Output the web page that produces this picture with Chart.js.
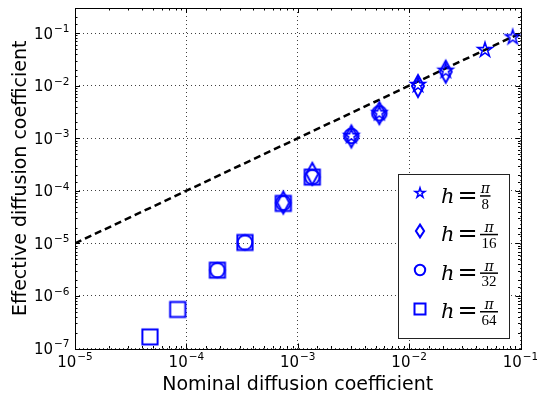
<!DOCTYPE html>
<html>
<head>
<meta charset="utf-8">
<script src="https://cdn.jsdelivr.net/npm/chart.js@4.4.1/dist/chart.umd.min.js"></script>
<style>
  html, body { margin: 0; padding: 0; background: #fff; }
  #wrap { position: relative; width: 537px; height: 394px; }
</style>
</head>
<body>
<div id="wrap"><canvas id="chart"></canvas></div>
<script>
// ---- data ----
// h = pi/8  (stars)
const xPi8  = [3.03e-3, 5.40e-3, 1.20e-2, 2.13e-2, 4.80e-2, 8.51e-2];
const yPi8  = [1.10e-3, 3.00e-3, 1.03e-2, 1.92e-2, 4.77e-2, 8.32e-2];
// h = pi/16 (thin diamonds)
const xPi16 = [7.41e-4, 1.35e-3, 3.03e-3, 5.40e-3, 1.20e-2, 2.13e-2];
const yPi16 = [5.96e-5, 2.10e-4, 1.08e-3, 3.00e-3, 9.84e-3, 1.84e-2];
// h = pi/32 (circles)
const xPi32 = [1.90e-4, 3.36e-4, 7.41e-4, 1.35e-3, 3.03e-3, 5.40e-3];
const yPi32 = [3.09e-6, 1.04e-5, 5.90e-5, 1.82e-4, 1.10e-3, 2.97e-3];
// h = pi/64 (squares)
const xPi64 = [4.71e-5, 8.36e-5, 1.90e-4, 3.36e-4, 7.41e-4, 1.35e-3];
const yPi64 = [1.66e-7, 5.52e-7, 3.09e-6, 1.04e-5, 5.76e-5, 1.82e-4];
// dashed reference line (effective = nominal)
const refX = [1e-5, 1e-1];
const refY = [1e-5, 1e-1];

const legendDenoms = ['8', '16', '32', '64'];
const xTitle = 'Nominal diffusion coefficient';
const yTitle = 'Effective diffusion coefficient';

// ---- helpers ----
const BLUE = '#0000ff';

function isDecade(v) {
  const l = Math.log10(v);
  return Math.abs(l - Math.round(l)) < 1e-6;
}
// exponent text for 10^n, with a real minus sign
function decadeExp(v) {
  return String(Math.round(Math.log10(v))).replace('-', '\u2212');
}
const toPoints = (xs, ys) => xs.map((x, i) => ({ x: x, y: ys[i] }));

// open marker drawn once into a small canvas, used as pointStyle
function makeMarker(shape, h, w, lw) {
  const pad = lw * 3 + 2;
  const c = document.createElement('canvas');
  c.width = Math.ceil(w + pad) * 2;
  c.height = Math.ceil(h + pad) * 2;
  const g = c.getContext('2d');
  g.translate(c.width / 2, c.height / 2);
  g.strokeStyle = BLUE;
  g.lineWidth = lw;
  g.lineJoin = 'miter';
  g.beginPath();
  if (shape === 'star') {
    for (let i = 0; i < 10; i++) {
      const a = -Math.PI / 2 + i * Math.PI / 5;
      const r = i % 2 ? h * 0.382 : h;
      g.lineTo(r * Math.cos(a), r * Math.sin(a));
    }
    g.closePath();
  } else if (shape === 'diamond') {
    g.moveTo(0, -h); g.lineTo(w, 0); g.lineTo(0, h); g.lineTo(-w, 0);
    g.closePath();
  } else if (shape === 'circle') {
    g.arc(0, 0, h, 0, Math.PI * 2);
  } else {
    g.rect(-w, -h, 2 * w, 2 * h);
  }
  g.stroke();
  return c;
}

const plotMarkers = [
  makeMarker('star', 7.6, 7.6, 1.6),
  makeMarker('diamond', 11, 6, 2),
  makeMarker('circle', 7.3, 7.3, 2),
  makeMarker('square', 7.6, 7.6, 2)
];
const legendMarkers = [
  makeMarker('star', 5.2, 5.2, 1.5),
  makeMarker('diamond', 6.4, 4.1, 2),
  makeMarker('circle', 5.2, 5.2, 2),
  makeMarker('square', 5.5, 5.5, 2)
];

// draw "10" with a raised exponent; anchor: 'center' or 'right'
function drawPow(ctx, v, x, base, anchor) {
  const exp = decadeExp(v);
  ctx.font = '15px "DejaVu Sans"';
  const wMain = ctx.measureText('10').width;
  ctx.font = '10.5px "DejaVu Sans"';
  const wExp = ctx.measureText(exp).width;
  const w = wMain + 1 + wExp;
  const x0 = anchor === 'center' ? x - w / 2 : x - w;
  ctx.textAlign = 'left';
  ctx.textBaseline = 'alphabetic';
  ctx.font = '15px "DejaVu Sans"';
  ctx.fillText('10', x0, base);
  ctx.font = '10.5px "DejaVu Sans"';
  ctx.fillText(exp, x0 + wMain + 1, base - 6.6);
}

// inward tick marks on all four sides, black frame, tick labels, legend
const framePlugin = {
  id: 'frame',
  afterDatasetsDraw(chart) {
    const { ctx, chartArea: a, scales } = chart;
    ctx.save();
    ctx.strokeStyle = '#000';
    ctx.lineWidth = 1;
    ctx.beginPath();
    scales.x.ticks.forEach(t => {
      if (t.value < scales.x.min || t.value > scales.x.max) return;
      const p = Math.round(scales.x.getPixelForValue(t.value)) + 0.5;
      const len = isDecade(t.value) ? 5 : 2.5;
      ctx.moveTo(p, a.bottom); ctx.lineTo(p, a.bottom - len);
      ctx.moveTo(p, a.top); ctx.lineTo(p, a.top + len);
    });
    scales.y.ticks.forEach(t => {
      if (t.value < scales.y.min || t.value > scales.y.max) return;
      const p = Math.round(scales.y.getPixelForValue(t.value)) + 0.5;
      const len = isDecade(t.value) ? 5 : 2.5;
      ctx.moveTo(a.left, p); ctx.lineTo(a.left + len, p);
      ctx.moveTo(a.right, p); ctx.lineTo(a.right - len, p);
    });
    ctx.stroke();
    ctx.strokeRect(Math.round(a.left) + 0.5, Math.round(a.top) + 0.5,
      Math.round(a.right) - Math.round(a.left), Math.round(a.bottom) - Math.round(a.top));

    // tick labels 10^n
    ctx.fillStyle = '#000';
    scales.x.ticks.forEach(t => {
      if (!isDecade(t.value)) return;
      drawPow(ctx, t.value, scales.x.getPixelForValue(t.value), a.bottom + 18.2, 'center');
    });
    scales.y.ticks.forEach(t => {
      if (!isDecade(t.value) || t.value > scales.y.max) return;
      drawPow(ctx, t.value, a.left - 5.5, scales.y.getPixelForValue(t.value) + 5.5, 'right');
    });
    ctx.restore();
  },
  // legend with  h = pi / n  fractions
  afterDraw(chart) {
    const ctx = chart.ctx;
    ctx.save();
    ctx.fillStyle = '#fff';
    ctx.fillRect(398.5, 174.5, 111, 164);
    ctx.strokeStyle = '#222';
    ctx.lineWidth = 1;
    ctx.strokeRect(398.5, 174.5, 111, 164);
    legendDenoms.forEach((den, i) => {
      const base = 202.6 + i * 38.6;
      const m = legendMarkers[i];
      ctx.drawImage(m, Math.round(419.5 - m.width / 2), Math.round(base - 9.8 - m.height / 2));
      ctx.fillStyle = '#000';
      ctx.textBaseline = 'alphabetic';
      ctx.textAlign = 'left';
      ctx.font = 'italic 21px "DejaVu Serif"';
      ctx.fillText('h', 441, base);
      ctx.font = '24px "DejaVu Sans"';
      ctx.fillText('=', 457.5, base);
      ctx.font = '15px "Liberation Serif"';
      const barW = ctx.measureText(den).width + 3;
      const bx = 480;
      const cx = bx + barW / 2;
      ctx.fillRect(bx, base - 7.4, barW, 1.5);
      ctx.textAlign = 'center';
      ctx.fillText(den, cx, base + 6.6);
      ctx.font = 'italic 14px "DejaVu Serif"';
      ctx.fillText('\u03C0', cx, base - 9.2);
    });
    ctx.restore();
  }
};

Chart.defaults.font.family = '"DejaVu Sans"';
Chart.defaults.color = '#000';

const gridColor = c => (c.tick && isDecade(c.tick.value)) ? 'rgba(0,0,0,0.75)' : 'rgba(0,0,0,0)';

new Chart(document.getElementById('chart'), {
  type: 'scatter',
  data: {
    datasets: [
      { label: 'h = \u03C0/8',  data: toPoints(xPi8, yPi8),   pointStyle: plotMarkers[0], pointRadius: 8 },
      { label: 'h = \u03C0/16', data: toPoints(xPi16, yPi16), pointStyle: plotMarkers[1], pointRadius: 8 },
      { label: 'h = \u03C0/32', data: toPoints(xPi32, yPi32), pointStyle: plotMarkers[2], pointRadius: 8 },
      { label: 'h = \u03C0/64', data: toPoints(xPi64, yPi64), pointStyle: plotMarkers[3], pointRadius: 8 },
      {
        type: 'line', label: 'reference', data: toPoints(refX, refY),
        borderColor: '#000', borderWidth: 2.5, borderDash: [7, 4],
        pointRadius: 0, showLine: true, fill: false
      }
    ]
  },
  options: {
    responsive: true,
    maintainAspectRatio: false,
    animation: false,
    events: [],
    layout: { autoPadding: false, padding: { top: 8, right: 16.5, left: 0, bottom: 0 } },
    plugins: { legend: { display: false }, tooltip: { enabled: false } },
    scales: {
      x: {
        type: 'logarithmic', min: 1e-5, max: 1e-1,
        afterFit: s => { s.height = 45.5; s.paddingLeft = 0; s.paddingRight = 0; },
        grid: { color: gridColor, lineWidth: 1, drawTicks: false },
        border: { display: false, dash: [1, 3] },
        ticks: { callback: () => '', autoSkip: false, maxRotation: 0 },
        title: { display: true, text: xTitle, font: { size: 19 }, padding: { top: 0, bottom: -2 } }
      },
      y: {
        type: 'logarithmic', min: 1e-7, max: 0.3,
        afterFit: s => { s.width = 75; s.paddingTop = 0; s.paddingBottom = 0; },
        grid: { color: gridColor, lineWidth: 1, drawTicks: false },
        border: { display: false, dash: [1, 3] },
        ticks: { callback: () => '', autoSkip: false },
        title: { display: true, text: yTitle, font: { size: 19 }, padding: { top: 9.5, bottom: 0 } }
      }
    }
  },
  plugins: [framePlugin]
});
</script>
</body>
</html>
